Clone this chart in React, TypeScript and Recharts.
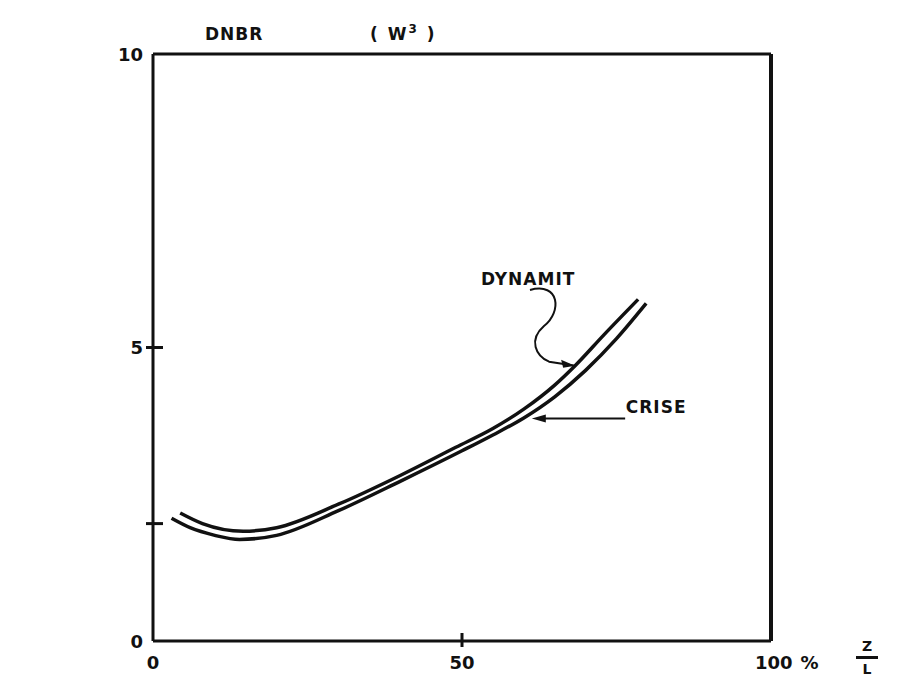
import { Line, LineChart, ReferenceDot, ReferenceLine, XAxis, YAxis } from "recharts";

// DNBR (W3) along the channel, Z/L in %
const dynamitX = [4.4, 8, 14.6, 20, 30, 40, 49, 55, 60, 65, 68.3, 73, 78.5];
const dynamitY = [2.18, 2.0, 1.87, 1.93, 2.33, 2.82, 3.3, 3.62, 3.95, 4.36, 4.69, 5.22, 5.82];
const criseX = [3, 6, 10, 14, 20, 30, 40, 50, 55, 60, 65, 70, 75, 79.8];
const criseY = [2.09, 1.93, 1.8, 1.73, 1.8, 2.22, 2.72, 3.24, 3.51, 3.8, 4.16, 4.61, 5.15, 5.75];

const xTicks = [0, 50, 100];
const yTicks = [0, 2, 5, 10];
const yLabelled = [0, 5, 10];
const crossTicksX = [50];
const crossTicksY = [2, 5];

// where the labels and their arrows sit, in data units
const dynamitLabel = { x: 60.7, y: 6.17 };
const dynamitArrow = { from: { x: 61.0, y: 5.98 }, to: { x: 68.3, y: 4.69 } };
const criseLabel = { x: 76.5, y: 3.98 };
const criseArrow = { from: { x: 76.4, y: 3.79 }, to: { x: 61.3, y: 3.79 } };

const dynamit = dynamitX.map((x, i) => ({ x, y: dynamitY[i] }));
const crise = criseX.map((x, i) => ({ x, y: criseY[i] }));

const ink = "#111";
const font = "'DejaVu Sans', sans-serif";

function YTick({ x, y, payload }: any) {
  const v = payload.value;
  return (
    <g>
      {crossTicksY.includes(v) && (
        <line x1={x - 7} x2={x + 10} y1={y} y2={y} stroke={ink} strokeWidth={3} />
      )}
      {yLabelled.includes(v) && (
        <text x={x - 10} y={y} textAnchor="end" dominantBaseline="central" fontFamily={font} fontWeight="bold" fontSize={18} fill={ink}>
          {v}
        </text>
      )}
    </g>
  );
}

function XTick({ x, y, payload }: any) {
  const v = payload.value;
  return (
    <g>
      {crossTicksX.includes(v) && (
        <line x1={x} x2={x} y1={y - 8} y2={y + 6} stroke={ink} strokeWidth={3} />
      )}
      {v === 100 ? (
        <text x={x - 16} y={y + 21} dominantBaseline="central" fontFamily={font} fontWeight="bold" fontSize={18} fill={ink}>
          {v}
          <tspan dx={8}>%</tspan>
        </text>
      ) : (
        <text x={x} y={y + 21} textAnchor="middle" dominantBaseline="central" fontFamily={font} fontWeight="bold" fontSize={18} fill={ink}>
          {v}
        </text>
      )}
    </g>
  );
}

function CurlyArrow({ x1, y1, x2, y2 }: any) {
  const d = `M ${x1} ${y1} C ${x1 + 30} ${y1 - 8}, ${x1 + 32} ${y1 + 22}, ${x1 + 14} ${y1 + 36} C ${x1 - 2} ${y1 + 50}, ${x1 + 6} ${y1 + 66}, ${x2 - 26} ${y2 - 4} L ${x2} ${y2}`;
  return (
    <g>
      <path d={d} fill="none" stroke={ink} strokeWidth={2} />
      <path d={`M ${x2} ${y2} L ${x2 - 14} ${y2 - 6} L ${x2 - 12} ${y2 + 2} Z`} fill={ink} />
    </g>
  );
}

function StraightArrow({ x1, y1, x2, y2 }: any) {
  return (
    <g>
      <line x1={x1} y1={y1} x2={x2 + 8} y2={y2} stroke={ink} strokeWidth={2} />
      <path d={`M ${x2} ${y2} L ${x2 + 14} ${y2 - 4} L ${x2 + 14} ${y2 + 4} Z`} fill={ink} />
    </g>
  );
}

function Word({ cx, cy, text }: any) {
  return (
    <text x={cx} y={cy} textAnchor="middle" dominantBaseline="central" fontFamily={font} fontWeight="bold" fontSize={17} letterSpacing={1} fill={ink}>
      {text}
    </text>
  );
}

function WordStart({ cx, cy, text }: any) {
  return (
    <text x={cx} y={cy} dominantBaseline="central" fontFamily={font} fontWeight="bold" fontSize={17} letterSpacing={1} fill={ink}>
      {text}
    </text>
  );
}

export default function App() {
  return (
    <div style={{ position: "absolute", left: 0, top: 0, width: 907, height: 696, background: "#fff" }}>
      <LineChart width={907} height={696} margin={{ top: 52, right: 134, bottom: 15, left: 93 }}>
        <XAxis
          type="number"
          dataKey="x"
          domain={[0, 100]}
          ticks={xTicks}
          height={40}
          tickSize={0}
          tickMargin={0}
          tick={<XTick />}
          axisLine={{ stroke: ink, strokeWidth: 3 }}
          allowDataOverflow
        />
        <XAxis xAxisId="top" orientation="top" type="number" domain={[0, 100]} height={2} tick={false} tickLine={false} axisLine={{ stroke: ink, strokeWidth: 3 }} />
        <YAxis
          type="number"
          domain={[0, 10]}
          ticks={yTicks}
          width={60}
          tickSize={0}
          tickMargin={0}
          tick={<YTick />}
          axisLine={{ stroke: ink, strokeWidth: 3 }}
          allowDataOverflow
        />
        <YAxis yAxisId="right" orientation="right" domain={[0, 10]} width={2} tick={false} tickLine={false} axisLine={{ stroke: ink, strokeWidth: 4 }} />
        <Line data={dynamit} dataKey="y" type="monotone" stroke={ink} strokeWidth={3.5} dot={false} isAnimationActive={false} />
        <Line data={crise} dataKey="y" type="monotone" stroke={ink} strokeWidth={3.5} dot={false} isAnimationActive={false} />
        <ReferenceLine segment={[dynamitArrow.from, dynamitArrow.to]} shape={<CurlyArrow />} ifOverflow="visible" />
        <ReferenceLine segment={[criseArrow.from, criseArrow.to]} shape={<StraightArrow />} ifOverflow="visible" />
        <ReferenceDot x={dynamitLabel.x} y={dynamitLabel.y} shape={<Word text="DYNAMIT" />} ifOverflow="visible" />
        <ReferenceDot x={criseLabel.x} y={criseLabel.y} shape={<WordStart text="CRISE" />} ifOverflow="visible" />
      </LineChart>
      <div style={{ position: "absolute", left: 205, top: 24, fontFamily: font, fontWeight: "bold", fontSize: 17, letterSpacing: 1, color: ink }}>DNBR</div>
      <div style={{ position: "absolute", left: 370, top: 22, fontFamily: font, fontWeight: "bold", fontSize: 17, letterSpacing: 2, color: ink }}>
        ( W<sup style={{ fontSize: 12 }}>3</sup> )
      </div>
      <div style={{ position: "absolute", left: 856, top: 638, width: 22, fontFamily: font, fontWeight: "bold", fontSize: 14, color: ink, textAlign: "center", lineHeight: "16px" }}>
        <div style={{ borderBottom: `3px solid ${ink}`, paddingBottom: 2 }}>Z</div>
        <div style={{ paddingTop: 2 }}>L</div>
      </div>
    </div>
  );
}
